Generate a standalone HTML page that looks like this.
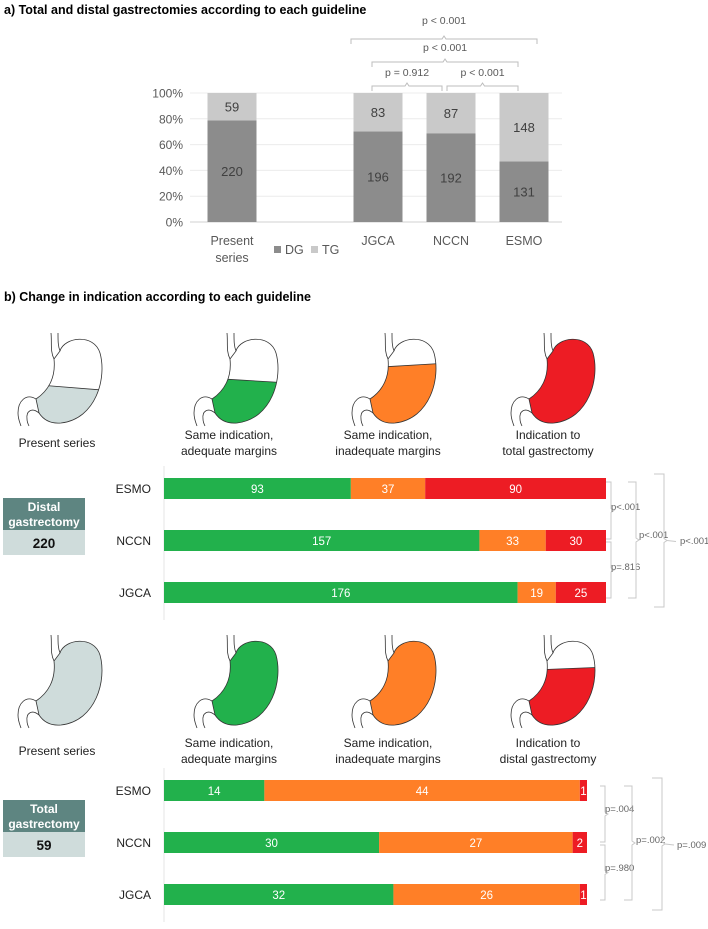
<!DOCTYPE html>
<html><head><meta charset="utf-8">
<style>
html,body{margin:0;padding:0;background:#fff;}
body{width:708px;height:924px;overflow:hidden;font-family:"Liberation Sans","DejaVu Sans",sans-serif;}
svg text{font-family:"Liberation Sans","DejaVu Sans",sans-serif;}
</style></head>
<body>
<svg id="root" width="708" height="924" viewBox="0 0 708 924" xmlns="http://www.w3.org/2000/svg">
<defs>
<g id="stomachOutline">
  <path d="M37,0 C38,10 36,18 40,26" fill="none" stroke="#333" stroke-width="0.8"/>
  <path d="M44,0 C44,8 44,13 46,18" fill="none" stroke="#333" stroke-width="0.8"/>
  <path d="M22,66 C12,60 4,68 4,80 C4,86 6,90 7,93" fill="none" stroke="#333" stroke-width="0.8"/>
  <path d="M25,80 C18,74 12,78 13,86 C13,89 14,91 15,93" fill="none" stroke="#333" stroke-width="0.8"/>
</g>
<path id="stomachBody" d="M46,18 C50,4 80,0 86,20 C93,45 82,86 47,90 C36,91 29,86 25,80 L22,66 C34,58 42,45 40,26 Z"/>
</defs>

<text x="4" y="14" font-size="12.5" font-weight="bold" fill="#000">a) Total and distal gastrectomies according to each guideline</text>
<g id="chartA"></g>

<text x="4" y="301" font-size="12.5" font-weight="bold" fill="#000">b) Change in indication according to each guideline</text>
<g id="chartB"></g>
</svg>

<script>
// ---------- Panel A data ----------
const aCategories = ['Present series', 'JGCA', 'NCCN', 'ESMO'];
const aSlots = [0, 2, 3, 4];
const aDG = [220, 196, 192, 131];
const aTG = [59, 83, 87, 148];
const aTicks = [0, 20, 40, 60, 80, 100];

// ---------- Panel B data ----------
const bGuidelines = ['ESMO', 'NCCN', 'JGCA'];
const distalAdequate = [93, 157, 176];
const distalInadequate = [37, 33, 19];
const distalChange = [90, 30, 25];
const totalAdequate = [14, 30, 32];
const totalInadequate = [44, 27, 26];
const totalChange = [1, 2, 1];

const NS = 'http://www.w3.org/2000/svg';
function mk(tag, attrs, parent, text) {
  const e = document.createElementNS(NS, tag);
  for (const k in attrs) e.setAttribute(k, attrs[k]);
  if (text !== undefined) e.textContent = text;
  parent.appendChild(e);
  return e;
}

// ----- Panel A -----
(function () {
  const g = document.getElementById('chartA');
  const y0 = 222, y100 = 93;
  const yS = v => y0 - (v / 100) * (y0 - y100);
  const xS = s => 232 + s * 73;
  const bw = 49;
  aTicks.forEach(t => {
    const gl = mk('line', {x1: 190, x2: 562, y1: yS(t), y2: yS(t), stroke: t === 0 ? '#d0d0d0' : '#ececec', 'stroke-width': 1}, g);
    
    
    const tl = mk('text', {x: 183, y: yS(t) + 4.5, 'text-anchor': 'end', 'font-size': 12, fill: '#595959'}, g, t + '%');
    
    
  });
  aCategories.forEach((c, i) => {
    const tot = aDG[i] + aTG[i];
    const pd = aDG[i] / tot * 100;
    const cx = xS(aSlots[i]);
    const r1 = mk('rect', {x: cx - bw / 2, y: yS(pd), width: bw, height: y0 - yS(pd), fill: '#8c8c8c'}, g);
    
    
    const r2 = mk('rect', {x: cx - bw / 2, y: yS(100), width: bw, height: yS(pd) - yS(100), fill: '#c9c9c9'}, g);
    
    
    const l1 = mk('text', {x: cx, y: (yS(pd) + y0) / 2 + 5, 'text-anchor': 'middle', 'font-size': 13, fill: '#404040'}, g, aDG[i]);
    
    
    const l2 = mk('text', {x: cx, y: (yS(pd) + yS(100)) / 2 + 5, 'text-anchor': 'middle', 'font-size': 13, fill: '#404040'}, g, aTG[i]);
    
    
    const words = c.split(' ');
    words.forEach((w, k) => {
      const xl = mk('text', {x: cx, y: 245 + k * 17, 'text-anchor': 'middle', 'font-size': 12.5, fill: '#595959'}, g, w);
      
      
    });
  });
  const lg = mk('g', {}, g);
  
  
  mk('rect', {x: 274, y: 246, width: 7, height: 7, fill: '#8c8c8c'}, lg);
  mk('text', {x: 285, y: 254, 'font-size': 12.5, fill: '#595959'}, lg, 'DG');
  mk('rect', {x: 311, y: 246, width: 7, height: 7, fill: '#c9c9c9'}, lg);
  mk('text', {x: 322, y: 254, 'font-size': 12.5, fill: '#595959'}, lg, 'TG');
  function hb(x1, x2, y, label, ty) {
    const xm = (x1 + x2) / 2;
    const p = mk('path', {d: `M${x1},${y + 5} V${y} H${xm - 2} L${xm},${y - 3} L${xm + 2},${y} H${x2} V${y + 5}`, fill: 'none', stroke: '#bdbdbd', 'stroke-width': 1}, g);
    
    
    const t = mk('text', {x: xm, y: ty, 'text-anchor': 'middle', 'font-size': 10.5, fill: '#595959'}, g, label);
    
    
  }
  hb(372, 442, 86, 'p = 0.912', 76);
  hb(447, 518, 86, 'p < 0.001', 76);
  hb(372, 518, 62, 'p < 0.001', 51);
  hb(351, 537, 39, 'p < 0.001', 24);
})();

// ----- Panel B -----
(function () {
  const g = document.getElementById('chartB');
  const COLORS = {gray: '#cfdcdb', green: '#22b14c', orange: '#ff7f27', red: '#ed1c24'};
  let clipId = 0;
  function stomach(x, y, fill, cutL, cutR, name) {
    const s = mk('g', {transform: `translate(${x},${y})`}, g);
    
    
    mk('use', {href: '#stomachBody', fill: '#fff', stroke: 'none'}, s);
    if (cutL === null) {
      mk('use', {href: '#stomachBody', fill: fill}, s);
    } else {
      const id = 'clp' + (clipId++);
      const cp = mk('clipPath', {id: id}, s);
      mk('polygon', {points: `0,${cutL} 100,${cutR} 100,100 0,100`}, cp);
      mk('use', {href: '#stomachBody', fill: fill, 'clip-path': `url(#${id})`}, s);
      const cl = mk('line', {x1: 0, y1: cutL, x2: 100, y2: cutR, stroke: '#333', 'stroke-width': 0.8}, s);
      const id2 = 'clp' + (clipId++);
      const cp2 = mk('clipPath', {id: id2}, s);
      mk('use', {href: '#stomachBody'}, cp2);
      cl.setAttribute('clip-path', `url(#${id2})`);
    }
    mk('use', {href: '#stomachBody', fill: 'none', stroke: '#333', 'stroke-width': 0.8}, s);
    mk('use', {href: '#stomachOutline'}, s);
  }
  function label(lines, cx, y, name) {
    lines.forEach((l, k) => {
      const t = mk('text', {x: cx, y: y + k * 16, 'text-anchor': 'middle', 'font-size': 12, fill: '#222'}, g, l);
      
      
    });
  }
  function panel(top, labShift, boxTitle, boxValue, adequate, inad, change, maxTotal, lastLabel, type, brackets) {
    const iy = top;
    if (type === 'distal') {
      stomach(14, iy, COLORS.gray, 50, 58, 'stomach-present-series');
      stomach(190, iy, COLORS.green, 44, 50, 'stomach-adequate');
      stomach(348, iy, COLORS.orange, 36, 30, 'stomach-inadequate');
      stomach(507, iy, COLORS.red, null, null, 'stomach-total');
    } else {
      stomach(14, iy, COLORS.gray, null, null, 'stomach-present-series');
      stomach(190, iy, COLORS.green, null, null, 'stomach-adequate');
      stomach(348, iy, COLORS.orange, null, null, 'stomach-inadequate');
      stomach(507, iy, COLORS.red, 36, 32, 'stomach-distal');
    }
    label(['Present series'], 57, top + 111 + labShift, 'icon-label');
    label(['Same indication,', 'adequate margins'], 229, top + 103 + labShift, 'icon-label');
    label(['Same indication,', 'inadequate margins'], 388, top + 103 + labShift, 'icon-label');
    label(['Indication to', lastLabel], 548, top + 103 + labShift, 'icon-label');
    const by = top + 165;
    const bx = mk('g', {}, g);
    
    
    mk('rect', {x: 3, y: by, width: 82, height: 32, fill: '#5e8581'}, bx);
    mk('rect', {x: 3, y: by + 32, width: 82, height: 25, fill: '#cfdcdb'}, bx);
    mk('text', {x: 44, y: by + 13, 'text-anchor': 'middle', 'font-size': 12, 'font-weight': 'bold', fill: '#fff'}, bx, boxTitle);
    mk('text', {x: 44, y: by + 28, 'text-anchor': 'middle', 'font-size': 12, 'font-weight': 'bold', fill: '#fff'}, bx, 'gastrectomy');
    mk('text', {x: 44, y: by + 50, 'text-anchor': 'middle', 'font-size': 13.5, 'font-weight': 'bold', fill: '#111'}, bx, boxValue);
    const x0 = 164;
    const xS = v => (v / maxTotal) * 442;
    const barTop = top + 145, step = 52, bh = 21;
    const ax = mk('line', {x1: x0, x2: x0, y1: barTop - 12, y2: barTop + 2 * step + bh + 17, stroke: '#e6e6e6', 'stroke-width': 1}, g);
    
    
    bGuidelines.forEach((gl, i) => {
      const y = barTop + i * step;
      const t = mk('text', {x: 151, y: y + 15, 'text-anchor': 'end', 'font-size': 12, fill: '#222'}, g, gl);
      
      
      const segs = [[adequate[i], COLORS.green, 'adequate'], [inad[i], COLORS.orange, 'inadequate'], [change[i], COLORS.red, 'change']];
      let cx = x0;
      segs.forEach(sg => {
        const w = xS(sg[0]);
        const r = mk('rect', {x: cx, y: y, width: w, height: bh, fill: sg[1]}, g);
        
        
        const tv = mk('text', {x: cx + w / 2, y: y + 15, 'text-anchor': 'middle', 'font-size': 11.5, fill: '#fff'}, g, sg[0]);
        
        
        cx += w;
      });
    });
    brackets.forEach(b => {
      const [x, d, y1, y2, lab, lx, ly, tail] = b;
      const ym = (y1 + y2) / 2;
      const p = mk('path', {d: `M${x},${y1} H${x + d} V${ym - 2} L${x + d + 3},${ym} L${x + d},${ym + 2} V${y2} H${x}`, fill: 'none', stroke: '#c8c8c8', 'stroke-width': 1}, g);
      
      
      if (tail) mk('line', {x1: x + d + 3, x2: x + d + 12, y1: ym, y2: ym + 1, stroke: '#c8c8c8'}, g);
      const t = mk('text', {x: lx, y: ly, 'font-size': 9.5, fill: '#666'}, g, lab);
      
      
    });
  }
  panel(333, 3, 'Distal', '220', distalAdequate, distalInadequate, distalChange, 220, 'total gastrectomy', 'distal', [
    [606, 5, 482, 539, 'p<.001', 611, 510, false],
    [606, 5, 542, 598, 'p=.816', 611, 570, false],
    [628, 8, 482, 598, 'p<.001', 639, 538, false],
    [654, 10, 474, 607, 'p<.001', 680, 544, true]
  ]);
  const maxT = totalAdequate[0] + totalInadequate[0] + totalChange[0];
  panel(635, 9, 'Total', '59', totalAdequate, totalInadequate, totalChange, maxT * 442 / 423, 'distal gastrectomy', 'total', [
    [600, 5, 786, 842, 'p=.004', 605, 812, false],
    [600, 5, 845, 900, 'p=.980', 605, 871, false],
    [624, 8, 786, 900, 'p=.002', 636, 843, false],
    [652, 10, 778, 910, 'p=.009', 677, 848, true]
  ]);
})();
</script>
</body></html>
